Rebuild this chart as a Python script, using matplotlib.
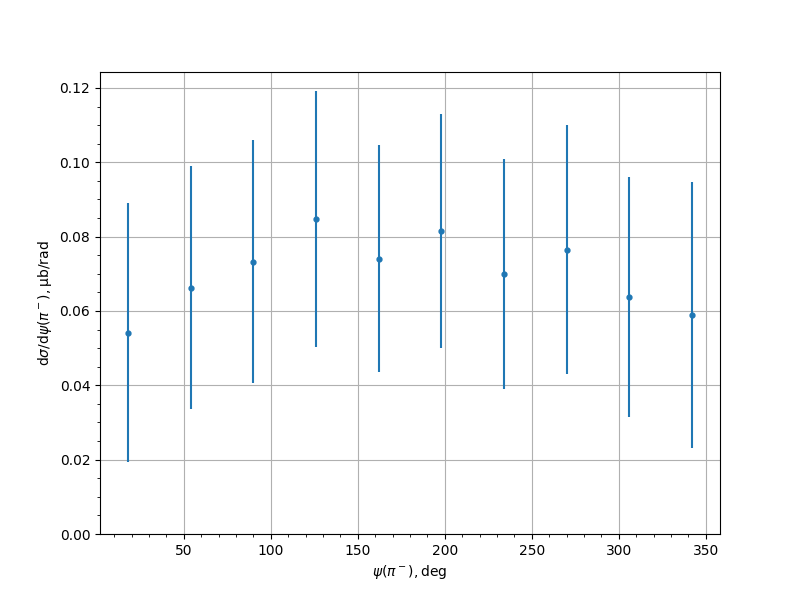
import matplotlib
matplotlib.use("Agg")
import matplotlib.pyplot as plt

psi = [18, 54, 90, 126, 162, 198, 234, 270, 306, 342]
xsec = [0.0542, 0.0663, 0.0733, 0.0848, 0.0741, 0.0815, 0.0700, 0.0765, 0.0638, 0.0590]
err = [0.0348, 0.0328, 0.0328, 0.0345, 0.0305, 0.0315, 0.0310, 0.0335, 0.0323, 0.0358]

fig, ax = plt.subplots(figsize=(8, 6), dpi=100)
ax.errorbar(psi, xsec, yerr=err, fmt='o', ms=3.5)
ax.set_ylim(bottom=0)
ax.minorticks_on()
ax.grid(True, which='major')
ax.set_xlabel(r'$\psi(\pi^-), \mathrm{deg}$')
ax.set_ylabel(r'$\mathrm{d}\sigma/\mathrm{d}\psi(\pi^-), \mathrm{\mu b/rad}$')
fig.savefig("out.png")
